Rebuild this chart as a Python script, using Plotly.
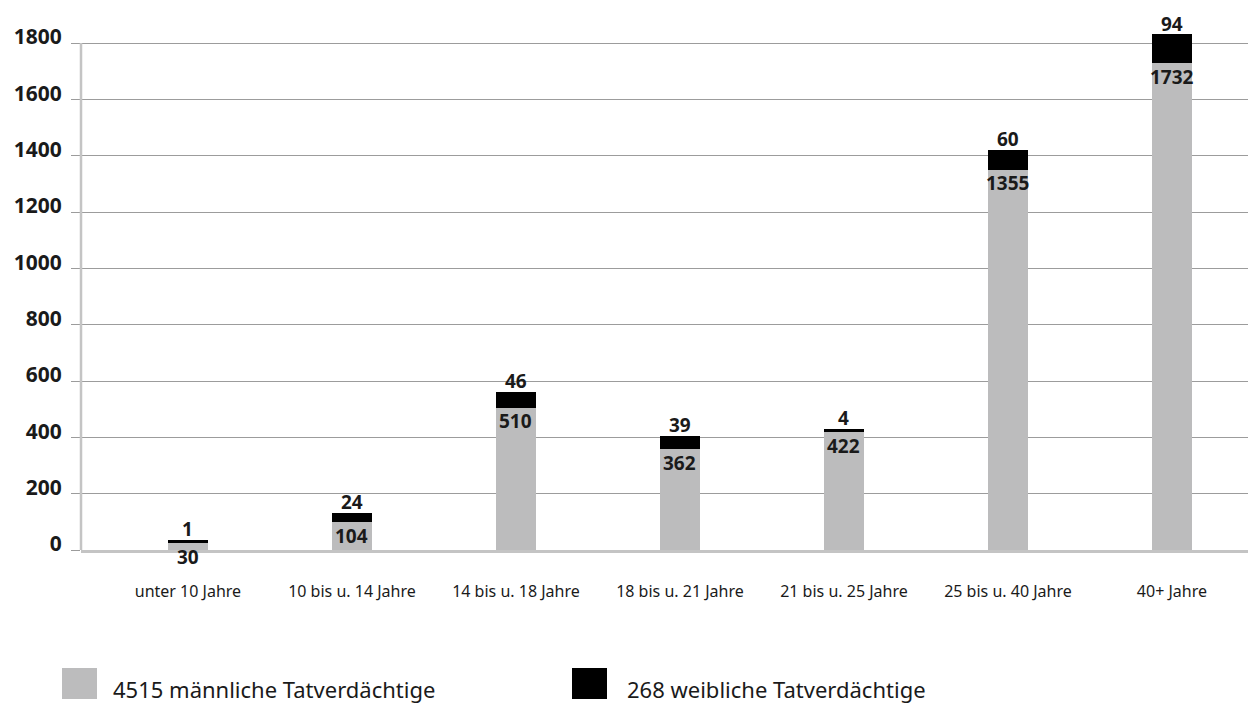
import plotly.graph_objects as go

# Tatverdächtige nach Altersgruppe und Geschlecht
age_groups = [
    "unter 10 Jahre",
    "10 bis u. 14 Jahre",
    "14 bis u. 18 Jahre",
    "18 bis u. 21 Jahre",
    "21 bis u. 25 Jahre",
    "25 bis u. 40 Jahre",
    "40+ Jahre",
]
male = [30, 104, 510, 362, 422, 1355, 1732]
female = [1, 24, 46, 39, 4, 60, 94]
y_ticks = [0, 200, 400, 600, 800, 1000, 1200, 1400, 1600, 1800]

GREY = "#bcbcbd"
BLACK = "#000000"
TEXT = "#1a1a1a"
FONT = "Noto Sans"

W, H = 1252, 709
M_L, M_R, M_T, M_B = 81, 4, 20, 159
PLOT_W = W - M_L - M_R
PLOT_H = H - M_T - M_B

x_pos = list(range(len(age_groups)))
totals = [m + f for m, f in zip(male, female)]

fig = go.Figure()
fig.add_trace(go.Bar(
    x=x_pos, y=male, name="männlich",
    marker=dict(color=GREY, line=dict(color=GREY, width=2.5)),
    width=0.23, hoverinfo="y",
))
fig.add_trace(go.Bar(
    x=x_pos, y=female, name="weiblich",
    marker=dict(color=BLACK, line=dict(color=BLACK, width=2.5)),
    width=0.23, hoverinfo="y",
))

annotations = []
for i, (m, f, t) in enumerate(zip(male, female, totals)):
    annotations.append(dict(
        x=i, y=t, xref="x", yref="y", text=f"<b>{f}</b>", showarrow=False,
        yanchor="bottom", yshift=-3, font=dict(family=FONT, size=19, color=TEXT),
    ))
    annotations.append(dict(
        x=i, y=m, xref="x", yref="y", text=f"<b>{m}</b>", showarrow=False,
        yanchor="top", yshift=0, font=dict(family=FONT, size=19, color=TEXT),
    ))


def px_x(px):
    return (px - M_L) / PLOT_W


def px_y(py):
    return (H - M_B - py) / PLOT_H


shapes = [
    # vertical axis line from 0 up to the top tick
    dict(type="line", xref="paper", yref="y", x0=0, x1=0, y0=0, y1=y_ticks[-1],
         line=dict(color="#c4c4c4", width=2.5), layer="above"),
]

# legend keys with series totals
legend_items = [
    (GREY, f"{sum(male)} männliche Tatverdächtige", 62, 111),
    (BLACK, f"{sum(female)} weibliche Tatverdächtige", 572, 625),
]
for color, label, key_x, text_x in legend_items:
    shapes.append(dict(
        type="rect", xref="paper", yref="paper",
        x0=px_x(key_x), x1=px_x(key_x + 35), y0=px_y(699), y1=px_y(668),
        fillcolor=color, line=dict(width=0),
    ))
    annotations.append(dict(
        x=px_x(text_x), y=px_y(689), xref="paper", yref="paper", text=label,
        showarrow=False, xanchor="left", yanchor="middle",
        font=dict(family=FONT, size=22, color=TEXT),
    ))

fig.update_layout(
    width=W, height=H,
    margin=dict(l=M_L, r=M_R, t=M_T, b=M_B),
    barmode="stack",
    showlegend=False,
    plot_bgcolor="white", paper_bgcolor="white",
    annotations=annotations,
    shapes=shapes,
    xaxis=dict(
        tickvals=x_pos, ticktext=age_groups,
        range=[-0.652, -0.652 + PLOT_W / 164],
        showgrid=False, zeroline=False,
        showline=True, linecolor="#c4c4c4", linewidth=2.5,
        ticks="", ticklabelstandoff=25,
        tickfont=dict(family=FONT, size=16, color=TEXT),
        fixedrange=True,
    ),
    yaxis=dict(
        tickvals=y_ticks,
        range=[0, PLOT_H * 1800 / 507],
        showgrid=True, gridcolor="#9c9c9c", gridwidth=1,
        zeroline=False, showline=False,
        ticks="outside", ticklen=9, tickcolor="#9c9c9c", tickwidth=1,
        ticklabelstandoff=5, ticklabelshift=-6,
        tickfont=dict(family=FONT, size=21, color=TEXT, weight="bold"),
        fixedrange=True,
    ),
)

fig.write_html("out.html")
